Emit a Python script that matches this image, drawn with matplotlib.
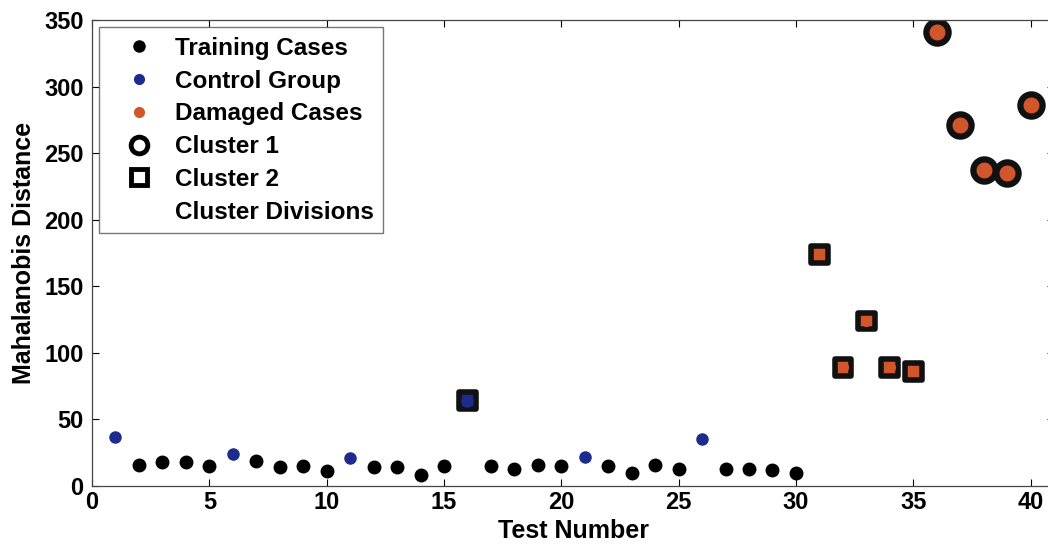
import matplotlib.pyplot as plt
from matplotlib.lines import Line2D

plt.rcParams['font.family'] = ['Liberation Sans', 'DejaVu Sans']
plt.rcParams['font.weight'] = 'bold'

# test number / Mahalanobis distance
train_x = [2, 3, 4, 5, 7, 8, 9, 10, 12, 13, 14, 15, 17, 18, 19, 20,
           22, 23, 24, 25, 27, 28, 29, 30]
train_y = [16, 18, 18, 15, 19, 14, 15, 11, 14, 14, 8, 15, 15, 13, 16, 15,
           15, 10, 16, 13, 13, 13, 12, 10]
control_x = [1, 6, 11, 16, 21, 26]
control_y = [37, 24, 21, 64, 22, 35]
damaged_x = [31, 32, 33, 34, 35, 36, 37, 38, 39, 40]
damaged_y = [174, 89, 124, 89, 86, 341, 271, 237, 235, 286]
cluster1_x = [36, 37, 38, 39, 40]
cluster1_y = [341, 271, 237, 235, 286]
cluster2_x = [16, 31, 32, 33, 34, 35]
cluster2_y = [64, 174, 89, 124, 89, 86]

blue = '#1f2b8c'
orange = '#d2562c'

fig = plt.figure(figsize=(10.48, 5.46), dpi=100)
ax = fig.add_axes([0.0878, 0.110, 0.918, 0.8535])

ax.plot(cluster1_x, cluster1_y, 'o', ms=16, mfc=orange, mec='#111111', mew=4.5, ls='none')
sq_colors = [blue if x in control_x else orange for x in cluster2_x]
ax.scatter(cluster2_x, cluster2_y, marker='s', s=12**2, c=sq_colors,
           edgecolors='#111111', linewidths=4, zorder=2)
ax.plot(train_x, train_y, 'o', ms=9, color='black', ls='none', zorder=3)
ax.plot(control_x, control_y, 'o', ms=8, color=blue, ls='none', zorder=3)
ax.plot(damaged_x, damaged_y, 'o', ms=7, color=orange, ls='none', zorder=3)

ax.set_xlim(0, 41)
ax.set_ylim(0, 350)
ax.set_xticks(range(0, 41, 5))
ax.set_yticks(range(0, 351, 50))
ax.tick_params(direction='in', top=True, right=True, labelsize=17, length=5, width=0.8)
ax.tick_params(axis='y', pad=6)
for s in ax.spines.values():
    s.set_linewidth(0.9)
    s.set_color('#444444')

ax.set_xlabel('Test Number', fontsize=18, fontweight='bold', labelpad=4)
ax.set_ylabel('Mahalanobis Distance', fontsize=18, fontweight='bold', labelpad=6)

handles = [
    Line2D([], [], marker='o', ls='none', color='black', ms=8),
    Line2D([], [], marker='o', ls='none', color=blue, ms=7),
    Line2D([], [], marker='o', ls='none', color=orange, ms=7),
    Line2D([], [], marker='o', ls='none', mfc='none', mec='black', ms=12, mew=3.5),
    Line2D([], [], marker='s', ls='none', mfc='none', mec='black', ms=12, mew=3.5),
    Line2D([], [], color='white', lw=1),
]
labels = ['Training Cases', 'Control Group', 'Damaged Cases', 'Cluster 1',
          'Cluster 2', 'Cluster Divisions']
leg = ax.legend(handles, labels, loc='upper left', fontsize=17.5, frameon=True,
                fancybox=False, edgecolor='#555555', borderaxespad=0.3,
                handlelength=2.5, labelspacing=0.4, borderpad=0.4,
                handletextpad=0.2)
leg.get_frame().set_linewidth(1.0)

fig.savefig('out.png', dpi=100)
